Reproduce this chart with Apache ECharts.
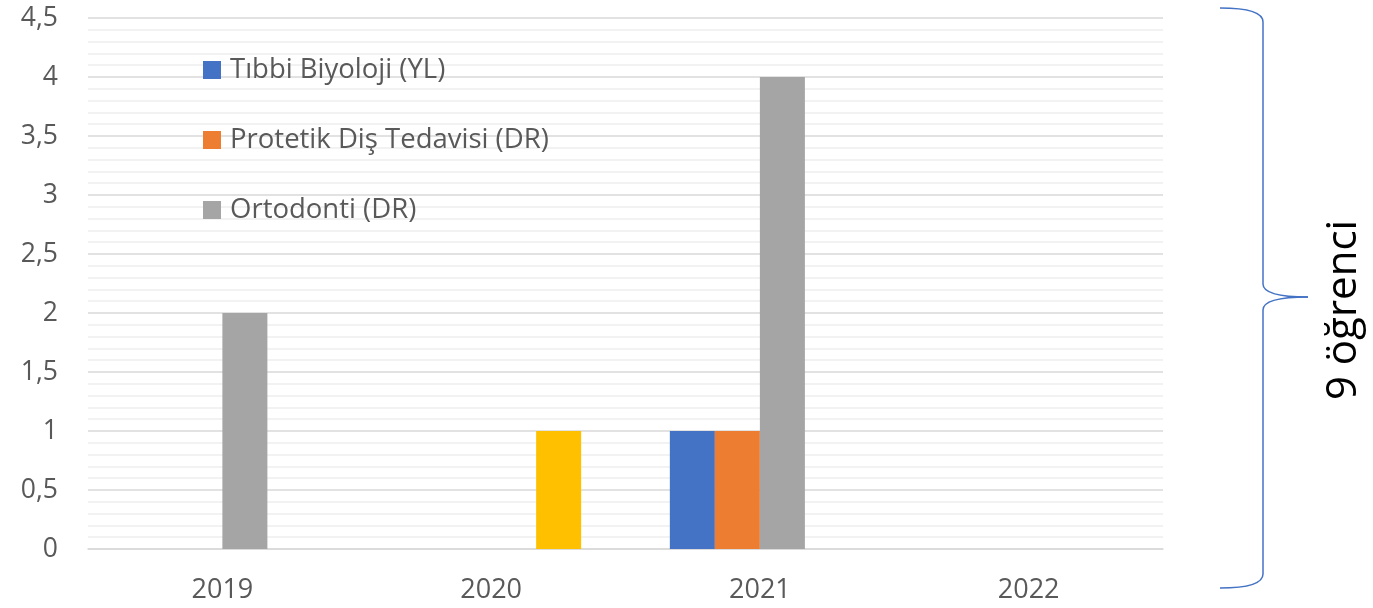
<!DOCTYPE html>
<html>
<head>
<meta charset="utf-8">
<script src="https://cdn.jsdelivr.net/npm/echarts@6/dist/echarts.min.js"></script>
<style>
  html, body { margin: 0; padding: 0; background: #fff; }
  #chart { width: 1373px; height: 608px; }
</style>
</head>
<body>
<div id="chart"></div>
<script>
// yıllar
var years = ['2019', '2020', '2021', '2022'];
// seriler
var seriesNames = ['Tıbbi Biyoloji (YL)', 'Protetik Diş Tedavisi (DR)', 'Ortodonti (DR)', 'Diğer'];
var tibbiBiyoloji = [0, 0, 1, 0];
var protetik = [0, 0, 1, 0];
var ortodonti = [2, 0, 4, 0];
var diger = [0, 1, 0, 0];
var colors = ['#4472C4', '#ED7D31', '#A5A5A5', '#FFC000'];
var braceText = '9 öğrenci';

var font = '"Open Sans", Lato, sans-serif';
var myChart = echarts.init(document.getElementById('chart'));

var values = [tibbiBiyoloji, protetik, ortodonti, diger];
var series = [];
for (var i = 0; i < values.length; i++) {
  series.push({
    name: seriesNames[i],
    type: 'bar',
    data: values[i],
    barGap: '0%',
    barCategoryGap: '33%',
    itemStyle: { color: colors[i] }
  });
}

// sağdaki süslü parantez
var braceStyle = { stroke: '#4472C4', lineWidth: 1.5, fill: null };
function curve(x1, y1, cx, cy, x2, y2) {
  return { type: 'bezierCurve', shape: { x1: x1, y1: y1, cpx1: cx, cpy1: cy, x2: x2, y2: y2 }, style: braceStyle };
}
function seg(x1, y1, x2, y2) {
  return { type: 'line', shape: { x1: x1, y1: y1, x2: x2, y2: y2 }, style: braceStyle };
}

var option = {
  animation: false,
  textStyle: { fontFamily: font },
  grid: { left: 88, right: 210, top: 18, bottom: 59, containLabel: false },
  legend: {
    data: seriesNames.slice(0, 3),
    orient: 'vertical',
    left: 198,
    top: 51,
    itemWidth: 18,
    itemHeight: 18,
    itemGap: 42,
    itemStyle: { borderWidth: 0 },
    icon: 'rect',
    textStyle: { fontSize: 27.5, color: '#595959', fontFamily: font, padding: [0, 0, 0, 4] }
  },
  xAxis: {
    type: 'category',
    data: years,
    axisLine: { show: true, lineStyle: { color: '#d9d9d9', width: 1.5 } },
    axisTick: { show: false },
    axisLabel: { fontSize: 27, color: '#595959', margin: 28, fontFamily: font }
  },
  yAxis: {
    type: 'value',
    min: 0,
    max: 4.5,
    interval: 0.5,
    axisLine: { show: false },
    axisTick: { show: false },
    axisLabel: {
      fontSize: 26.5,
      color: '#595959',
      margin: 30,
      fontFamily: font,
      formatter: function (v) { return String(v).replace('.', ','); }
    },
    splitLine: { lineStyle: { color: '#d9d9d9', width: 1.5 } },
    minorTick: { show: false, splitNumber: 5 },
    minorSplitLine: { show: true, lineStyle: { color: '#eeeeee', width: 1.5 } }
  },
  series: series,
  graphic: [
    curve(1220, 8, 1263, 8, 1263, 22),
    seg(1263, 22, 1263, 284),
    curve(1263, 284, 1263, 297, 1308, 297),
    curve(1308, 297, 1263, 297, 1263, 310),
    seg(1263, 310, 1263, 574),
    curve(1263, 574, 1263, 588, 1220, 588),
    {
      type: 'text',
      x: 1344,
      y: 310,
      rotation: Math.PI / 2,
      style: {
        text: braceText,
        fontSize: 42,
        fontFamily: font,
        fill: '#000',
        align: 'center',
        verticalAlign: 'middle'
      }
    }
  ]
};

myChart.setOption(option);
</script>
</body>
</html>
